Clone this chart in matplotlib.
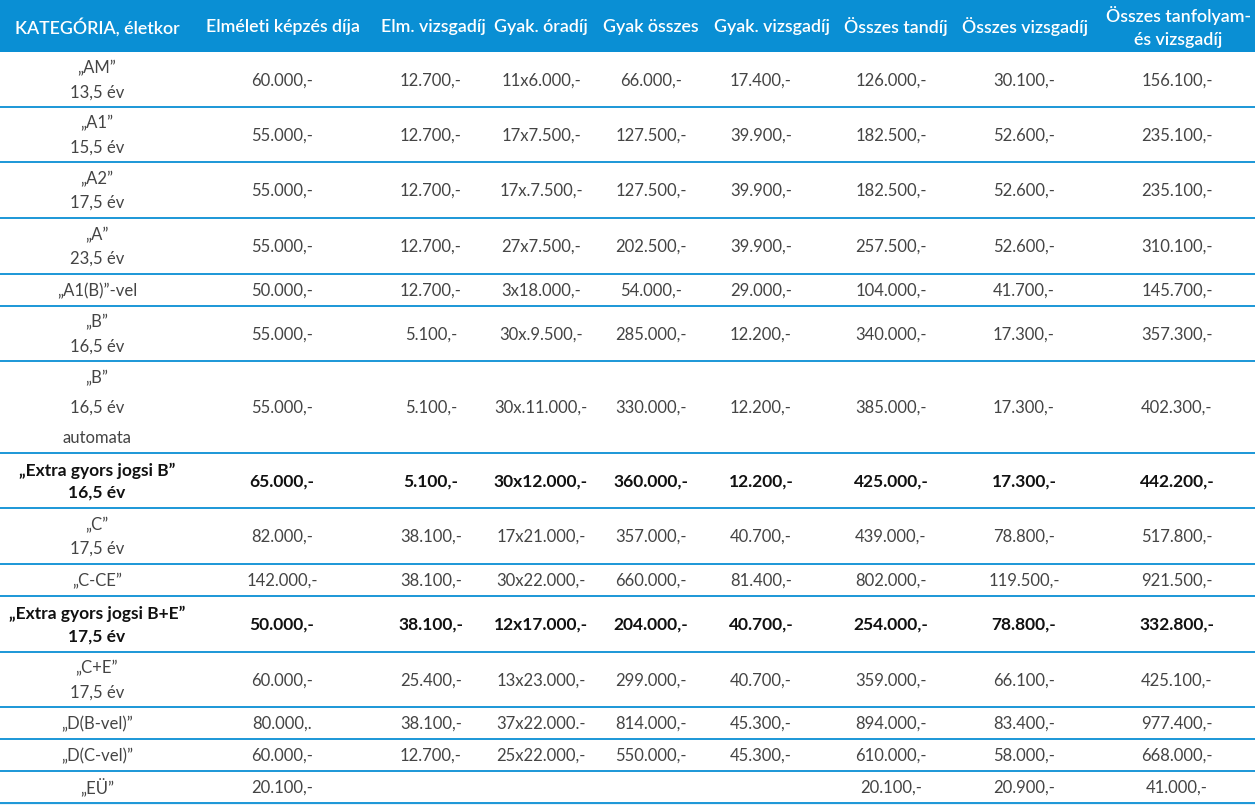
import matplotlib.pyplot as plt

plt.rcParams['font.family'] = ['Lato', 'DejaVu Sans']

# Táblázat adatai
headers = ["KATEGÓRIA, életkor", "Elméleti képzés díja", "Elm. vizsgadíj",
           "Gyak. óradíj", "Gyak összes", "Gyak. vizsgadíj", "Összes tandíj",
           "Összes vizsgadíj", "Összes tanfolyam-\nés vizsgadíj"]

categories = ["„AM”\n13,5 év", "„A1”\n15,5 év", "„A2”\n17,5 év", "„A”\n23,5 év",
              "„A1(B)”-vel", "„B”\n16,5 év", "„B”\n16,5 év\nautomata",
              "„Extra gyors jogsi B”\n16,5 év", "„C”\n17,5 év", "„C-CE”",
              "„Extra gyors jogsi B+E”\n17,5 év", "„C+E”\n17,5 év",
              "„D(B-vel)”", "„D(C-vel)”", "„EÜ”"]

elmeleti = ["60.000,-", "55.000,-", "55.000,-", "55.000,-", "50.000,-", "55.000,-",
            "55.000,-", "65.000,-", "82.000,-", "142.000,-", "50.000,-", "60.000,-",
            "80.000,.", "60.000,-", "20.100,-"]
elm_vizsga = ["12.700,-", "12.700,-", "12.700,-", "12.700,-", "12.700,-", "5.100,-",
              "5.100,-", "5.100,-", "38.100,-", "38.100,-", "38.100,-", "25.400,-",
              "38.100,-", "12.700,-", ""]
gyak_oradij = ["11x6.000,-", "17x7.500,-", "17x.7.500,-", "27x7.500,-", "3x18.000,-",
               "30x.9.500,-", "30x.11.000,-", "30x12.000,-", "17x21.000,-", "30x22.000,-",
               "12x17.000,-", "13x23.000,-", "37x22.000.-", "25x22.000,-", ""]
gyak_osszes = ["66.000,-", "127.500,-", "127.500,-", "202.500,-", "54.000,-", "285.000,-",
               "330.000,-", "360.000,-", "357.000,-", "660.000,-", "204.000,-", "299.000,-",
               "814.000,-", "550.000,-", ""]
gyak_vizsga = ["17.400,-", "39.900,-", "39.900,-", "39.900,-", "29.000,-", "12.200,-",
               "12.200,-", "12.200,-", "40.700,-", "81.400,-", "40.700,-", "40.700,-",
               "45.300,-", "45.300,-", ""]
osszes_tandij = ["126.000,-", "182.500,-", "182.500,-", "257.500,-", "104.000,-", "340.000,-",
                 "385.000,-", "425.000,-", "439.000,-", "802.000,-", "254.000,-", "359.000,-",
                 "894.000,-", "610.000,-", "20.100,-"]
osszes_vizsga = ["30.100,-", "52.600,-", "52.600,-", "52.600,-", "41.700,-", "17.300,-",
                 "17.300,-", "17.300,-", "78.800,-", "119.500,-", "78.800,-", "66.100,-",
                 "83.400,-", "58.000,-", "20.900,-"]
osszes_total = ["156.100,-", "235.100,-", "235.100,-", "310.100,-", "145.700,-", "357.300,-",
                "402.300,-", "442.200,-", "517.800,-", "921.500,-", "332.800,-", "425.100,-",
                "977.400,-", "668.000,-", "41.000,-"]
bold_rows = [7, 10]

columns = [categories, elmeleti, elm_vizsga, gyak_oradij, gyak_osszes,
           gyak_vizsga, osszes_tandij, osszes_vizsga, osszes_total]

# Elrendezés (pixelben)
W, H = 1255, 805
header_h = 52
row_edges = [52, 107, 162, 218, 274, 306, 361, 453, 508, 564, 596, 652, 707, 739, 771, 803]
head_x = [97, 283, 433, 541, 651, 772, 896, 1025, 1178]
cell_x = [97, 282, 431, 541, 651, 761, 891, 1024, 1177]

blue = "#0a8fd4"
text_col = "#444444"

fig = plt.figure(figsize=(W / 100, H / 100), dpi=100)
ax = fig.add_axes([0, 0, 1, 1])
ax.set_xlim(0, W)
ax.set_ylim(H, 0)
ax.axis("off")

# Fejléc
ax.axhspan(0, header_h, color=blue, lw=0)
ax.axhspan(row_edges[-1], H, color="#e6f3fb", lw=0)
for x, h in zip(head_x, headers):
    ax.text(x, header_h / 2 + 1, h, ha="center", va="center", color="white",
            fontsize=12.8, fontweight="semibold", linespacing=1.58)

# Sorok
for i in range(len(categories)):
    top, bottom = row_edges[i], row_edges[i + 1]
    yc = (top + bottom) / 2
    bold = i in bold_rows
    for j, col in enumerate(columns):
        if bold:
            ax.text(cell_x[j], yc + 1, col[i], ha="center", va="center",
                    fontsize=12.5, fontweight="bold", color="#111111",
                    linespacing=1.46)
        else:
            ls = 2.1 if col[i].count("\n") == 2 else 1.6
            ax.text(cell_x[j], yc + 1, col[i], ha="center", va="center",
                    fontsize=12, fontweight="normal", color=text_col,
                    linespacing=ls)
    ax.axhline(bottom, color=blue, lw=1.3)

fig.savefig("out.png", dpi=100)
